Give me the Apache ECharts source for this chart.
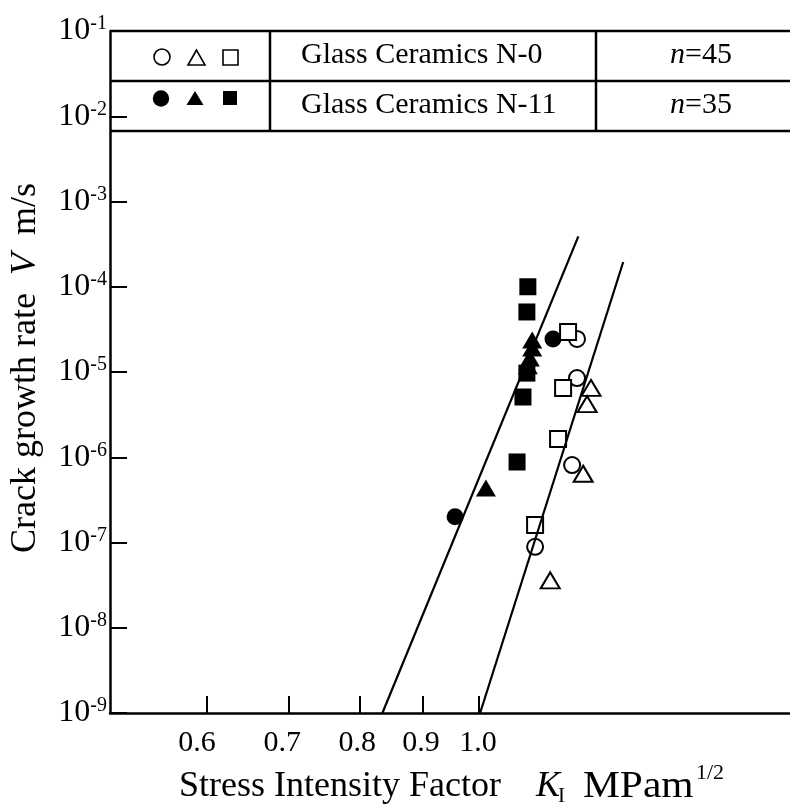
<!DOCTYPE html>
<html><head><meta charset="utf-8">
<script src="https://cdn.jsdelivr.net/npm/echarts@6/dist/echarts.min.js"></script>
<style>html,body{margin:0;padding:0;background:#fff}#c{width:790px;height:809px}</style>
</head><body><div id="c"></div>
<script>
// ---- data (K in MPa·m^1/2, V in m/s) ----
const xTicks = [0.6, 0.7, 0.8, 0.9, 1.0];
const yTicks = [1e-9, 1e-8, 1e-7, 1e-6, 1e-5, 1e-4, 1e-3, 1e-2, 1e-1];
// Glass Ceramics N-0 (open symbols)
const n0Circles   = [[1.202, 2.44e-5], [1.202, 8.5e-6], [1.191, 8.1e-7], [1.111, 8.9e-8]];
const n0Triangles = [[1.234, 6.5e-6], [1.225, 4.2e-6], [1.216, 6.4e-7], [1.143, 3.6e-8]];
const n0Squares   = [[1.182, 2.94e-5], [1.171, 6.5e-6], [1.160, 1.64e-6], [1.111, 1.6e-7]];
// Glass Ceramics N-11 (filled symbols)
const n11Circles   = [[0.956, 2.0e-7], [1.149, 2.44e-5]];
const n11Triangles = [[1.013, 4.36e-7], [1.105, 2.37e-5], [1.105, 1.91e-5], [1.100, 1.46e-5], [1.096, 1.18e-5]];
const n11Squares   = [[1.096, 1.0e-4], [1.094, 5.06e-5], [1.094, 9.7e-6], [1.086, 5.09e-6], [1.074, 8.8e-7]];
// fitted lines
const fitN11 = [[0.834, 1e-9], [1.205, 3.9e-4]];
const fitN0  = [[1.002, 1e-9], [1.311, 1.95e-4]];
// table texts
const groupNames = ['Glass Ceramics N-0', 'Glass Ceramics N-11'];
const groupCounts = [45, 35];

const serif = '"Liberation Serif", "Times New Roman", serif';
const chart = echarts.init(document.getElementById('c'), null, {renderer: 'canvas'});

// small leftward shifts of the x tick labels, as printed in the original
const xLabelShift = [20, 14, 6, 4, 2];
const xRich = {};
xLabelShift.forEach((p, i) => {
  xRich['o' + i] = {fontSize: 30, fontFamily: serif, color: '#000', padding: [0, p, 0, 0]};
});

function filled(data, symbol, size) {
  return {type: 'scatter', data, symbol, symbolSize: size, z: 3,
    itemStyle: {color: '#000', opacity: 1}, emphasis: {disabled: true}};
}
function open(data, symbol, size) {
  return {type: 'scatter', data, symbol, symbolSize: size, z: 4,
    itemStyle: {color: '#fff', borderColor: '#000', borderWidth: 2, opacity: 1}, emphasis: {disabled: true}};
}
function fit(data) {
  return {type: 'line', data, symbol: 'none', z: 6, silent: true,
    lineStyle: {color: '#000', width: 2.2}, emphasis: {disabled: true}};
}
const txt = (t, x, y, o) => ({type: 'text', x, y, z: 100, style: Object.assign({
  text: t, fontFamily: serif, fontSize: 30, fill: '#000', align: 'left', verticalAlign: 'middle'}, o || {})});
const ln = (x1, y1, x2, y2, w) => ({type: 'line', z: 100, shape: {x1, y1, x2, y2},
  style: {stroke: '#000', lineWidth: w || 2.5}});

const option = {
  animation: false,
  backgroundColor: '#fff',
  grid: {left: 110, top: 31, width: 682, height: 682, containLabel: false, outerBoundsMode: 'none'},
  xAxis: {
    type: 'log', logBase: 10, min: 0.5, max: 1.8,
    axisLine: {show: true, onZero: false, lineStyle: {color: '#000', width: 2.5}},
    axisTick: {show: true, inside: true, length: 17, customValues: xTicks, lineStyle: {color: '#000', width: 2}},
    axisLabel: {show: true, customValues: xTicks, margin: 15, color: '#000', fontSize: 30, fontFamily: serif,
      formatter: v => {
        const i = xTicks.findIndex(t => Math.abs(t - v) < 1e-6);
        return '{o' + (i < 0 ? 0 : i) + '|' + Number(v).toFixed(1) + '}';
      },
      rich: xRich},
    splitLine: {show: false}, minorTick: {show: false}, minorSplitLine: {show: false}
  },
  yAxis: {
    type: 'log', logBase: 10, min: 1e-9, max: 1e-1,
    axisLine: {show: true, onZero: false, lineStyle: {color: '#000', width: 2.5}},
    axisTick: {show: true, inside: true, length: 17, customValues: yTicks, lineStyle: {color: '#000', width: 2}},
    axisLabel: {show: true, customValues: yTicks, margin: 3, color: '#000', fontFamily: serif,
      formatter: v => '{b|10}{s|' + Math.round(Math.log10(v)) + '}',
      rich: {
        b: {fontSize: 32, lineHeight: 34, fontFamily: serif, color: '#000'},
        s: {fontSize: 20, lineHeight: 20, verticalAlign: 'top', fontFamily: serif, color: '#000'}
      }},
    splitLine: {show: false}, minorTick: {show: false}, minorSplitLine: {show: false}
  },
  series: [
    filled(n11Circles, 'circle', 17),
    filled(n11Triangles, 'triangle', [20, 17]),
    filled(n11Squares, 'rect', 17),
    open(n0Circles, 'circle', 16),
    open(n0Triangles, 'triangle', [19, 16]),
    open(n0Squares, 'rect', 16),
    fit(fitN11),
    fit(fitN0)
  ],
  graphic: [
    // table
    ln(110, 31, 792, 31), ln(110, 81, 792, 81), ln(110, 131, 792, 131),
    ln(270, 31, 270, 131), ln(596, 31, 596, 131),
    // legend symbols row 1 (open)
    {type: 'circle', z: 100, shape: {cx: 162, cy: 57, r: 8}, style: {fill: '#fff', stroke: '#000', lineWidth: 1.6}},
    {type: 'polygon', z: 100, shape: {points: [[196.5, 50], [188, 65], [205, 65]]}, style: {fill: '#fff', stroke: '#000', lineWidth: 1.6}},
    {type: 'rect', z: 100, shape: {x: 223, y: 50, width: 15, height: 15}, style: {fill: '#fff', stroke: '#000', lineWidth: 1.6}},
    // legend symbols row 2 (filled)
    {type: 'circle', z: 100, shape: {cx: 161, cy: 98.5, r: 8.2}, style: {fill: '#000'}},
    {type: 'polygon', z: 100, shape: {points: [[195, 91], [186.5, 105], [203.5, 105]]}, style: {fill: '#000'}},
    {type: 'rect', z: 100, shape: {x: 223, y: 91, width: 14, height: 14}, style: {fill: '#000'}},
    txt(groupNames[0], 301, 55),
    txt(groupNames[1], 301, 105),
    txt('{i|n}=' + groupCounts[0], 701, 55, {align: 'center', rich: {i: {fontStyle: 'italic', fontFamily: serif, fontSize: 30}}}),
    txt('{i|n}=' + groupCounts[1], 701, 105, {align: 'center', rich: {i: {fontStyle: 'italic', fontFamily: serif, fontSize: 30}}}),
    // x axis title
    txt('Stress Intensity Factor', 179, 787, {fontSize: 36}),
    txt('K', 536, 787, {fontSize: 36, fontStyle: 'italic'}),
    txt('I', 558, 796, {fontSize: 21}),
    {type: 'text', x: 583, y: 787, z: 100, scaleX: 1.12, style: {text: 'MPam', fontFamily: serif, fontSize: 37, fill: '#000', align: 'left', verticalAlign: 'middle'}},
    txt('1/2', 696, 773, {fontSize: 22}),
    // y axis title
    {type: 'text', x: 26, y: 368, rotation: Math.PI / 2, z: 100, style: {
      text: 'Crack growth rate  {i|V}  m/s', fontFamily: serif, fontSize: 36, fill: '#000',
      align: 'center', verticalAlign: 'middle',
      rich: {i: {fontStyle: 'italic', fontFamily: serif, fontSize: 36}}}}
  ]
};
chart.setOption(option);
</script>
</body></html>
